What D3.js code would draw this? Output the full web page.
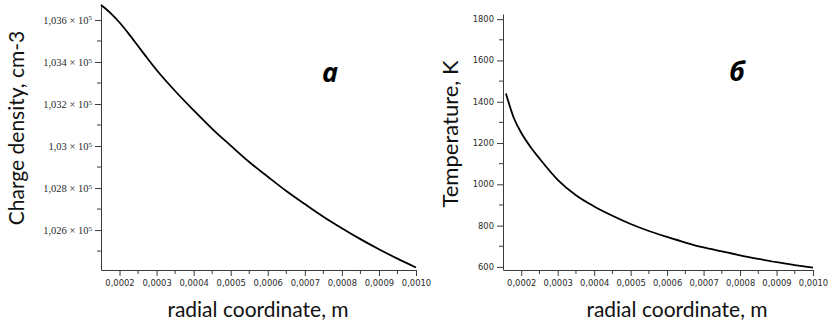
<!DOCTYPE html>
<html><head><meta charset="utf-8">
<script src="https://cdn.jsdelivr.net/npm/d3@7"></script>
<style>html,body{margin:0;padding:0;background:#fff;}svg{display:block;}</style>
</head><body>
<svg id="c" width="829" height="325"></svg>
<script>
// Panel a: charge density (cm-3) vs radial coordinate (m)
const radiusA = [0.00015,0.000175,0.0002,0.000225,0.00025,0.000275,0.0003,0.00035,0.0004,0.00045,0.0005,0.00055,0.0006,0.00065,0.0007,0.00075,0.0008,0.00085,0.0009,0.00095,0.001];
const chargeDensity = [103671,103634,103588,103534,103476,103418,103362,103262,103170,103082,103002,102924,102854,102786,102724,102664,102609,102557,102509,102464,102422];
// Panel б: temperature (K) vs radial coordinate (m)
const radiusB = [0.000158,0.00018,0.0002,0.000225,0.00025,0.0003,0.00035,0.0004,0.00045,0.0005,0.00055,0.0006,0.00065,0.0007,0.00075,0.0008,0.00085,0.0009,0.00095,0.001];
const temperature = [1440,1320,1250,1182,1125,1022,947,893,848,808,774,745,718,694,675,656,639,623,609,596];

const xTicks = [0.0002,0.0003,0.0004,0.0005,0.0006,0.0007,0.0008,0.0009,0.0010];
const xMinor = [0.00025,0.00035,0.00045,0.00055,0.00065,0.00075,0.00085,0.00095];
const yTicksA = [102600,102800,103000,103200,103400,103600];
const yMinorA = [102500,102700,102900,103100,103300,103500];
const yTicksB = [600,800,1000,1200,1400,1600,1800];
const yMinorB = [700,900,1100,1300,1500,1700];
const xTitle = "radial coordinate, m";
const yTitleA = "Charge density, cm-3";
const yTitleB = "Temperature, K";
const panelLabels = ["a","б"];

const svg = d3.select("#c");
const fmtX = d => d.toFixed(4).replace(".", ",");

function panel(o){
  const g = svg.append("g");
  const x = d3.scaleLinear().domain(o.xDom).range(o.xRange);
  const y = d3.scaleLinear().domain(o.yDom).range(o.yRange);
  const axCol = "#3a3a3a";
  const xa = g.append("g").attr("transform",`translate(0,${o.yRange[0]})`)
    .call(d3.axisBottom(x).tickValues(xTicks).tickSize(6).tickSizeOuter(0).tickFormat(fmtX));
  xa.select(".domain").attr("stroke",axCol);
  xa.selectAll(".tick line").attr("stroke",axCol);
  xa.selectAll(".tick text").attr("font-family","'DejaVu Sans', sans-serif").attr("font-size","8.4px").attr("fill","#2a2a2a").attr("dy","0.85em");
  g.append("g").selectAll("line").data(xMinor).join("line")
    .attr("x1",d=>x(d)).attr("x2",d=>x(d)).attr("y1",o.yRange[0]).attr("y2",o.yRange[0]+4).attr("stroke",axCol);
  const ya = g.append("g").attr("transform",`translate(${o.xRange[0]},0)`)
    .call(d3.axisLeft(y).tickValues(o.yTicks).tickSize(6).tickSizeOuter(0).tickFormat(""));
  ya.select(".domain").attr("stroke",axCol);
  ya.selectAll(".tick line").attr("stroke",axCol);
  g.append("g").selectAll("line").data(o.yMinor).join("line")
    .attr("x1",o.xRange[0]-4).attr("x2",o.xRange[0]).attr("y1",d=>y(d)).attr("y2",d=>y(d)).attr("stroke",axCol);
  const tl = g.append("g").selectAll("text").data(o.yTicks).join("text")
    .attr("x",o.xRange[0]-9).attr("y",d=>y(d)).attr("dy","0.35em").attr("text-anchor","end")
    .attr("font-family", o.sci ? "'Liberation Serif', serif" : "'DejaVu Sans', sans-serif")
    .attr("font-size", o.sci ? "10.5px" : "8.4px").attr("fill","#2a2a2a");
  if(o.sci){
    tl.each(function(d){
      const t = d3.select(this);
      const m = +(d/1e5).toFixed(3);
      t.append("tspan").text(String(m).replace(".",",") + " \u00d7 10");
      t.append("tspan").attr("font-size","7px").attr("dy","-0.45em").text("5");
    });
  } else {
    tl.text(d=>d);
  }
  const line = d3.line().x(d=>x(d[0])).y(d=>y(d[1])).curve(d3.curveMonotoneX);
  g.append("path").datum(d3.zip(o.xs,o.ys)).attr("d",line)
    .attr("fill","none").attr("stroke","#000").attr("stroke-width",1.8);
  g.append("text").attr("x",o.xtx).attr("y",317).attr("text-anchor","middle")
    .attr("font-family","Lato, sans-serif").attr("font-size","21px").attr("fill","#111").text(xTitle);
  g.append("text").attr("transform",`translate(${o.ytx},${o.yty}) rotate(-90)`).attr("text-anchor","middle")
    .attr("font-family","Lato, sans-serif").attr("font-size",o.ytfs).attr("fill","#111").text(o.yTitle);
  g.append("text").attr("x",o.lx).attr("y",o.ly).attr("text-anchor","middle")
    .attr("font-family","'Open Sans', sans-serif").attr("font-style","italic").attr("font-weight","bold")
    .attr("font-size","27px").attr("fill","#000").text(o.label);
}

panel({xDom:[0.00015,0.001], xRange:[101,416], yDom:[102410,103676], yRange:[270,4],
  yTicks:yTicksA, yMinor:yMinorA, sci:true, xs:radiusA, ys:chargeDensity,
  xtx:258, ytx:24, yty:128, ytfs:"21px", yTitle:yTitleA, label:panelLabels[0], lx:330, ly:82});
panel({xDom:[0.00015,0.001], xRange:[503,813], yDom:[585,1825], yRange:[270,14],
  yTicks:yTicksB, yMinor:yMinorB, sci:false, xs:radiusB, ys:temperature,
  xtx:677, ytx:458, yty:134, ytfs:"22px", yTitle:yTitleB, label:panelLabels[1], lx:737, ly:81});
</script>
</body></html>
